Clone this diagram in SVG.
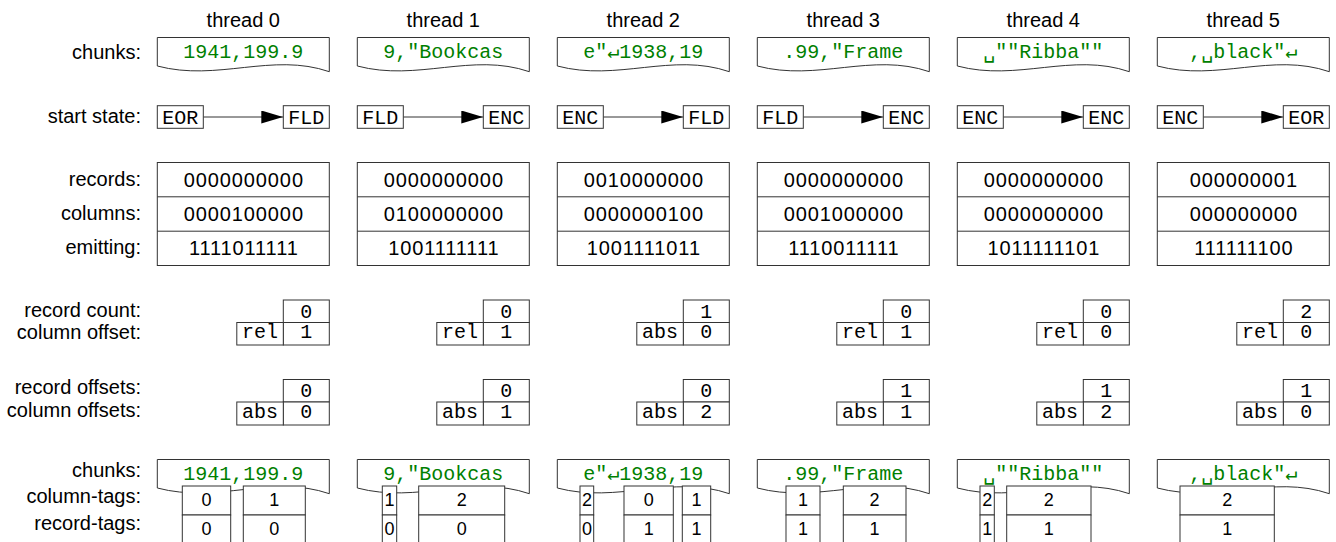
<svg xmlns="http://www.w3.org/2000/svg" width="1336" height="542" viewBox="0 0 1336 542">
<style>
.lbl{font-family:"Liberation Sans",Arial,sans-serif;font-size:20px;text-anchor:end;fill:#000}
.hdr{font-family:"Liberation Sans",Arial,sans-serif;font-size:20px;text-anchor:middle;fill:#000}
.mono{font-family:"Liberation Mono","DejaVu Sans Mono",monospace;font-size:20px;text-anchor:middle;fill:#000}
.chunk{fill:#008000}
.bits{font-family:"Liberation Sans",Arial,sans-serif;font-size:20px;letter-spacing:0.9px;text-anchor:middle;fill:#000}
.tag{font-family:"Liberation Sans",Arial,sans-serif;font-size:18px;text-anchor:middle;fill:#000}
.box{fill:#fff;stroke:#333;stroke-width:1}
.ln{stroke:#333;stroke-width:1;fill:none}
.conn{stroke:#333;stroke-width:1;fill:none}
</style>
<defs>
<marker id="arr" markerUnits="userSpaceOnUse" markerWidth="22" markerHeight="13" refX="22" refY="6.5" orient="auto">
<path d="M0,0 L22,6.5 L0,13 Z" fill="#000"/>
</marker>
<path id="doc" d="M0,0 H172 V34.2 C115,14.5 60,44.5 0,28.5 Z"/>
</defs>
<rect width="1336" height="542" fill="#fff"/>
<g id="labels">
<text class="lbl" x="141" y="59">chunks:</text>
<text class="lbl" x="141" y="122.5">start state:</text>
<text class="lbl" x="141" y="186">records:</text>
<text class="lbl" x="141" y="220">columns:</text>
<text class="lbl" x="141" y="254">emitting:</text>
<text class="lbl" x="141" y="316.5">record count:</text>
<text class="lbl" x="141" y="339">column offset:</text>
<text class="lbl" x="141" y="394">record offsets:</text>
<text class="lbl" x="141" y="416.5">column offsets:</text>
<text class="lbl" x="141" y="477">chunks:</text>
<text class="lbl" x="141" y="503">column-tags:</text>
<text class="lbl" x="141" y="530">record-tags:</text>
</g>

<g id="connectors">
<line class="conn" x1="203.3" y1="117" x2="283.3" y2="117" marker-end="url(#arr)"/>
<line class="conn" x1="403.3" y1="117" x2="483.3" y2="117" marker-end="url(#arr)"/>
<line class="conn" x1="603.3" y1="117" x2="683.3" y2="117" marker-end="url(#arr)"/>
<line class="conn" x1="803.3" y1="117" x2="883.3" y2="117" marker-end="url(#arr)"/>
<line class="conn" x1="1003.3" y1="117" x2="1083.3" y2="117" marker-end="url(#arr)"/>
<line class="conn" x1="1203.3" y1="117" x2="1283.3" y2="117" marker-end="url(#arr)"/>
</g>

<!-- thread 0 -->
<g id="thread0" transform="translate(157.3,0)">
<text class="hdr" x="86" y="26.5">thread 0</text>
<g id="t0-chunk"><use href="#doc" class="box" y="37.5"/><text class="mono chunk" x="86" y="57.5">1941,199.9</text></g>
<g id="t0-start"><rect class="box" x="0" y="105.7" width="46" height="22.6"/><text class="mono" x="23" y="124">EOR</text></g>
<g id="t0-end"><rect class="box" x="126" y="105.7" width="46" height="22.6"/><text class="mono" x="149" y="124">FLD</text></g>
<g id="t0-bits"><rect class="box" x="0" y="162.5" width="172" height="103"/><line class="ln" x1="0" y1="196.8" x2="172" y2="196.8"/><line class="ln" x1="0" y1="231.2" x2="172" y2="231.2"/>
<text class="bits" x="86.5" y="186.5">0000000000</text><text class="bits" x="86.5" y="220.9">0000100000</text><text class="bits" x="86.5" y="255.3">1111011111</text></g>
<g id="t0-count"><rect class="box" x="126" y="300" width="46" height="22.5"/><rect class="box" x="126" y="322.5" width="46" height="22.5"/><rect class="box" x="79.5" y="322.5" width="46.5" height="22.5"/>
<text class="mono" x="149" y="317.5">0</text><text class="mono" x="149" y="338">1</text><text class="mono" x="102.7" y="338">rel</text></g>
<g id="t0-offsets"><rect class="box" x="126" y="379.5" width="46" height="22.5"/><rect class="box" x="126" y="402" width="46" height="23"/><rect class="box" x="79.5" y="402" width="46.5" height="23"/>
<text class="mono" x="149" y="397">0</text><text class="mono" x="149" y="418">0</text><text class="mono" x="102.7" y="418">abs</text></g>
<g id="t0-chunk2"><use href="#doc" class="box" y="459.5"/><text class="mono chunk" x="86" y="479.5">1941,199.9</text></g>
<g id="t0-tags">
<rect class="box" x="25" y="486" width="48.4" height="29"/><rect class="box" x="25" y="515" width="48.4" height="30"/><text class="tag" x="49.2" y="506">0</text><text class="tag" x="49.2" y="535">0</text>
<rect class="box" x="86" y="486" width="62" height="29"/><rect class="box" x="86" y="515" width="62" height="30"/><text class="tag" x="117" y="506">1</text><text class="tag" x="117" y="535">0</text>
</g>
</g>

<!-- thread 1 -->
<g id="thread1" transform="translate(357.3,0)">
<text class="hdr" x="86" y="26.5">thread 1</text>
<g id="t1-chunk"><use href="#doc" class="box" y="37.5"/><text class="mono chunk" x="86" y="57.5">9,"Bookcas</text></g>
<g id="t1-start"><rect class="box" x="0" y="105.7" width="46" height="22.6"/><text class="mono" x="23" y="124">FLD</text></g>
<g id="t1-end"><rect class="box" x="126" y="105.7" width="46" height="22.6"/><text class="mono" x="149" y="124">ENC</text></g>
<g id="t1-bits"><rect class="box" x="0" y="162.5" width="172" height="103"/><line class="ln" x1="0" y1="196.8" x2="172" y2="196.8"/><line class="ln" x1="0" y1="231.2" x2="172" y2="231.2"/>
<text class="bits" x="86.5" y="186.5">0000000000</text><text class="bits" x="86.5" y="220.9">0100000000</text><text class="bits" x="86.5" y="255.3">1001111111</text></g>
<g id="t1-count"><rect class="box" x="126" y="300" width="46" height="22.5"/><rect class="box" x="126" y="322.5" width="46" height="22.5"/><rect class="box" x="79.5" y="322.5" width="46.5" height="22.5"/>
<text class="mono" x="149" y="317.5">0</text><text class="mono" x="149" y="338">1</text><text class="mono" x="102.7" y="338">rel</text></g>
<g id="t1-offsets"><rect class="box" x="126" y="379.5" width="46" height="22.5"/><rect class="box" x="126" y="402" width="46" height="23"/><rect class="box" x="79.5" y="402" width="46.5" height="23"/>
<text class="mono" x="149" y="397">0</text><text class="mono" x="149" y="418">1</text><text class="mono" x="102.7" y="418">abs</text></g>
<g id="t1-chunk2"><use href="#doc" class="box" y="459.5"/><text class="mono chunk" x="86" y="479.5">9,"Bookcas</text></g>
<g id="t1-tags">
<rect class="box" x="25" y="486" width="14.4" height="29"/><rect class="box" x="25" y="515" width="14.4" height="30"/><text class="tag" x="32.2" y="506">1</text><text class="tag" x="32.2" y="535">0</text>
<rect class="box" x="61.4" y="486" width="86" height="29"/><rect class="box" x="61.4" y="515" width="86" height="30"/><text class="tag" x="104.4" y="506">2</text><text class="tag" x="104.4" y="535">0</text>
</g>
</g>

<!-- thread 2 -->
<g id="thread2" transform="translate(557.3,0)">
<text class="hdr" x="86" y="26.5">thread 2</text>
<g id="t2-chunk"><use href="#doc" class="box" y="37.5"/><text class="mono chunk" x="86" y="57.5">e"↵1938,19</text></g>
<g id="t2-start"><rect class="box" x="0" y="105.7" width="46" height="22.6"/><text class="mono" x="23" y="124">ENC</text></g>
<g id="t2-end"><rect class="box" x="126" y="105.7" width="46" height="22.6"/><text class="mono" x="149" y="124">FLD</text></g>
<g id="t2-bits"><rect class="box" x="0" y="162.5" width="172" height="103"/><line class="ln" x1="0" y1="196.8" x2="172" y2="196.8"/><line class="ln" x1="0" y1="231.2" x2="172" y2="231.2"/>
<text class="bits" x="86.5" y="186.5">0010000000</text><text class="bits" x="86.5" y="220.9">0000000100</text><text class="bits" x="86.5" y="255.3">1001111011</text></g>
<g id="t2-count"><rect class="box" x="126" y="300" width="46" height="22.5"/><rect class="box" x="126" y="322.5" width="46" height="22.5"/><rect class="box" x="79.5" y="322.5" width="46.5" height="22.5"/>
<text class="mono" x="149" y="317.5">1</text><text class="mono" x="149" y="338">0</text><text class="mono" x="102.7" y="338">abs</text></g>
<g id="t2-offsets"><rect class="box" x="126" y="379.5" width="46" height="22.5"/><rect class="box" x="126" y="402" width="46" height="23"/><rect class="box" x="79.5" y="402" width="46.5" height="23"/>
<text class="mono" x="149" y="397">0</text><text class="mono" x="149" y="418">2</text><text class="mono" x="102.7" y="418">abs</text></g>
<g id="t2-chunk2"><use href="#doc" class="box" y="459.5"/><text class="mono chunk" x="86" y="479.5">e"↵1938,19</text></g>
<g id="t2-tags">
<rect class="box" x="22.7" y="486" width="13.7" height="29"/><rect class="box" x="22.7" y="515" width="13.7" height="30"/><text class="tag" x="29.6" y="506">2</text><text class="tag" x="29.6" y="535">0</text>
<rect class="box" x="66.7" y="486" width="49.3" height="29"/><rect class="box" x="66.7" y="515" width="49.3" height="30"/><text class="tag" x="91.4" y="506">0</text><text class="tag" x="91.4" y="535">1</text>
<rect class="box" x="125" y="486" width="28.4" height="29"/><rect class="box" x="125" y="515" width="28.4" height="30"/><text class="tag" x="139.2" y="506">1</text><text class="tag" x="139.2" y="535">1</text>
</g>
</g>

<!-- thread 3 -->
<g id="thread3" transform="translate(757.3,0)">
<text class="hdr" x="86" y="26.5">thread 3</text>
<g id="t3-chunk"><use href="#doc" class="box" y="37.5"/><text class="mono chunk" x="86" y="57.5">.99,"Frame</text></g>
<g id="t3-start"><rect class="box" x="0" y="105.7" width="46" height="22.6"/><text class="mono" x="23" y="124">FLD</text></g>
<g id="t3-end"><rect class="box" x="126" y="105.7" width="46" height="22.6"/><text class="mono" x="149" y="124">ENC</text></g>
<g id="t3-bits"><rect class="box" x="0" y="162.5" width="172" height="103"/><line class="ln" x1="0" y1="196.8" x2="172" y2="196.8"/><line class="ln" x1="0" y1="231.2" x2="172" y2="231.2"/>
<text class="bits" x="86.5" y="186.5">0000000000</text><text class="bits" x="86.5" y="220.9">0001000000</text><text class="bits" x="86.5" y="255.3">1110011111</text></g>
<g id="t3-count"><rect class="box" x="126" y="300" width="46" height="22.5"/><rect class="box" x="126" y="322.5" width="46" height="22.5"/><rect class="box" x="79.5" y="322.5" width="46.5" height="22.5"/>
<text class="mono" x="149" y="317.5">0</text><text class="mono" x="149" y="338">1</text><text class="mono" x="102.7" y="338">rel</text></g>
<g id="t3-offsets"><rect class="box" x="126" y="379.5" width="46" height="22.5"/><rect class="box" x="126" y="402" width="46" height="23"/><rect class="box" x="79.5" y="402" width="46.5" height="23"/>
<text class="mono" x="149" y="397">1</text><text class="mono" x="149" y="418">1</text><text class="mono" x="102.7" y="418">abs</text></g>
<g id="t3-chunk2"><use href="#doc" class="box" y="459.5"/><text class="mono chunk" x="86" y="479.5">.99,"Frame</text></g>
<g id="t3-tags">
<rect class="box" x="28.7" y="486" width="34" height="29"/><rect class="box" x="28.7" y="515" width="34" height="30"/><text class="tag" x="45.7" y="506">1</text><text class="tag" x="45.7" y="535">1</text>
<rect class="box" x="86" y="486" width="62.7" height="29"/><rect class="box" x="86" y="515" width="62.7" height="30"/><text class="tag" x="117.3" y="506">2</text><text class="tag" x="117.3" y="535">1</text>
</g>
</g>

<!-- thread 4 -->
<g id="thread4" transform="translate(957.3,0)">
<text class="hdr" x="86" y="26.5">thread 4</text>
<g id="t4-chunk"><use href="#doc" class="box" y="37.5"/><text class="mono chunk" x="86" y="57.5">␣""Ribba""</text></g>
<g id="t4-start"><rect class="box" x="0" y="105.7" width="46" height="22.6"/><text class="mono" x="23" y="124">ENC</text></g>
<g id="t4-end"><rect class="box" x="126" y="105.7" width="46" height="22.6"/><text class="mono" x="149" y="124">ENC</text></g>
<g id="t4-bits"><rect class="box" x="0" y="162.5" width="172" height="103"/><line class="ln" x1="0" y1="196.8" x2="172" y2="196.8"/><line class="ln" x1="0" y1="231.2" x2="172" y2="231.2"/>
<text class="bits" x="86.5" y="186.5">0000000000</text><text class="bits" x="86.5" y="220.9">0000000000</text><text class="bits" x="86.5" y="255.3">1011111101</text></g>
<g id="t4-count"><rect class="box" x="126" y="300" width="46" height="22.5"/><rect class="box" x="126" y="322.5" width="46" height="22.5"/><rect class="box" x="79.5" y="322.5" width="46.5" height="22.5"/>
<text class="mono" x="149" y="317.5">0</text><text class="mono" x="149" y="338">0</text><text class="mono" x="102.7" y="338">rel</text></g>
<g id="t4-offsets"><rect class="box" x="126" y="379.5" width="46" height="22.5"/><rect class="box" x="126" y="402" width="46" height="23"/><rect class="box" x="79.5" y="402" width="46.5" height="23"/>
<text class="mono" x="149" y="397">1</text><text class="mono" x="149" y="418">2</text><text class="mono" x="102.7" y="418">abs</text></g>
<g id="t4-chunk2"><use href="#doc" class="box" y="459.5"/><text class="mono chunk" x="86" y="479.5">␣""Ribba""</text></g>
<g id="t4-tags">
<rect class="box" x="22.7" y="486" width="14.3" height="29"/><rect class="box" x="22.7" y="515" width="14.3" height="30"/><text class="tag" x="29.9" y="506">2</text><text class="tag" x="29.9" y="535">1</text>
<rect class="box" x="49.4" y="486" width="84.3" height="29"/><rect class="box" x="49.4" y="515" width="84.3" height="30"/><text class="tag" x="91.5" y="506">2</text><text class="tag" x="91.5" y="535">1</text>
</g>
</g>

<!-- thread 5 -->
<g id="thread5" transform="translate(1157.3,0)">
<text class="hdr" x="86" y="26.5">thread 5</text>
<g id="t5-chunk"><use href="#doc" class="box" y="37.5"/><text class="mono chunk" x="86" y="57.5">,␣black"↵</text></g>
<g id="t5-start"><rect class="box" x="0" y="105.7" width="46" height="22.6"/><text class="mono" x="23" y="124">ENC</text></g>
<g id="t5-end"><rect class="box" x="126" y="105.7" width="46" height="22.6"/><text class="mono" x="149" y="124">EOR</text></g>
<g id="t5-bits"><rect class="box" x="0" y="162.5" width="172" height="103"/><line class="ln" x1="0" y1="196.8" x2="172" y2="196.8"/><line class="ln" x1="0" y1="231.2" x2="172" y2="231.2"/>
<text class="bits" x="86.5" y="186.5">000000001</text><text class="bits" x="86.5" y="220.9">000000000</text><text class="bits" x="86.5" y="255.3">111111100</text></g>
<g id="t5-count"><rect class="box" x="126" y="300" width="46" height="22.5"/><rect class="box" x="126" y="322.5" width="46" height="22.5"/><rect class="box" x="79.5" y="322.5" width="46.5" height="22.5"/>
<text class="mono" x="149" y="317.5">2</text><text class="mono" x="149" y="338">0</text><text class="mono" x="102.7" y="338">rel</text></g>
<g id="t5-offsets"><rect class="box" x="126" y="379.5" width="46" height="22.5"/><rect class="box" x="126" y="402" width="46" height="23"/><rect class="box" x="79.5" y="402" width="46.5" height="23"/>
<text class="mono" x="149" y="397">1</text><text class="mono" x="149" y="418">0</text><text class="mono" x="102.7" y="418">abs</text></g>
<g id="t5-chunk2"><use href="#doc" class="box" y="459.5"/><text class="mono chunk" x="86" y="479.5">,␣black"↵</text></g>
<g id="t5-tags">
<rect class="box" x="22.7" y="486" width="94.3" height="29"/><rect class="box" x="22.7" y="515" width="94.3" height="30"/><text class="tag" x="69.9" y="506">2</text><text class="tag" x="69.9" y="535">1</text>
</g>
</g>
</svg>
